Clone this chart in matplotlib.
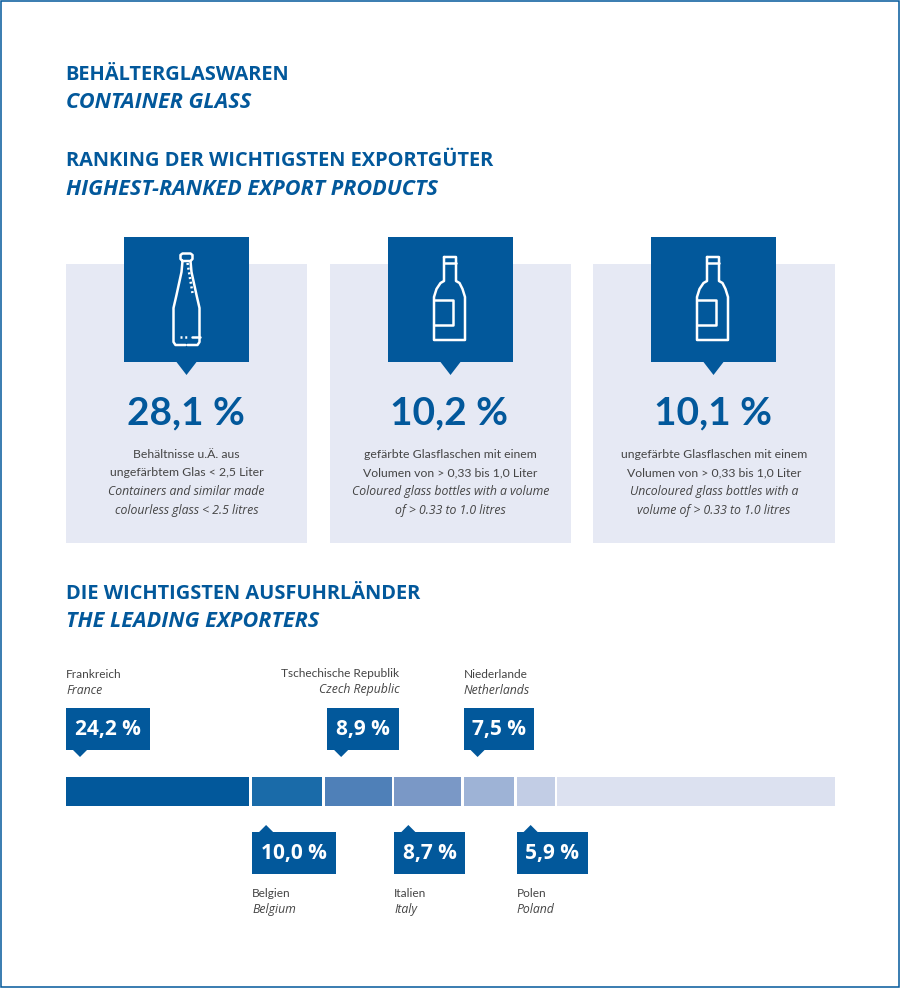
import matplotlib
matplotlib.use("Agg")
import matplotlib.pyplot as plt
from matplotlib.patches import Rectangle, Polygon, PathPatch
from matplotlib.path import Path

plt.rcParams['font.family'] = ['Open Sans', 'DejaVu Sans']

BLUE = '#02589b'
PANEL = '#e6e9f4'
GREY = '#454545'
LATO = ['Lato', 'DejaVu Sans']

# headings
title_de = "BEHÄLTERGLASWAREN"
title_en = "CONTAINER GLASS"
ranking_de = "RANKING DER WICHTIGSTEN EXPORTGÜTER"
ranking_en = "HIGHEST-RANKED EXPORT PRODUCTS"
exporters_de = "DIE WICHTIGSTEN AUSFUHRLÄNDER"
exporters_en = "THE LEADING EXPORTERS"

# ranking cards
card_values = ["28,1 %", "10,2 %", "10,1 %"]
card_lines = [
    ["Behältnisse u.Ä. aus", "ungefärbtem Glas < 2,5 Liter",
     "Containers and similar made", "colourless glass < 2.5 litres"],
    ["gefärbte Glasflaschen mit einem", "Volumen von > 0,33 bis 1,0 Liter",
     "Coloured glass bottles with a volume", "of > 0.33 to 1.0 litres"],
    ["ungefärbte Glasflaschen mit einem", "Volumen von > 0,33 bis 1,0 Liter",
     "Uncoloured glass bottles with a", "volume of > 0.33 to 1.0 litres"],
]

# exporters, the shares are what the bar shows, the labels what is printed
countries_de = ["Frankreich", "Belgien", "Tschechische Republik", "Italien", "Niederlande", "Polen"]
countries_en = ["France", "Belgium", "Czech Republic", "Italy", "Netherlands", "Poland"]
share_labels = ["24,2 %", "10,0 %", "8,9 %", "8,7 %", "7,5 %", "5,9 %"]
bar_shares = [24.2, 9.5, 9.0, 9.0, 6.9, 5.3, 36.1]
bar_colors = ['#02589b', '#1a6ba9', '#4f80b8', '#7a98c6', '#9eb3d6', '#c2cde5', '#dce1f0']

W, H = 900, 988
fig = plt.figure(figsize=(W / 100, H / 100), dpi=100, facecolor='white')
ax = fig.add_axes([0, 0, 1, 1])
ax.set_xlim(0, W)
ax.set_ylim(H, 0)
ax.axis('off')

ax.add_patch(Rectangle((0.75, 0.75), W - 1.5, H - 1.5, fill=False, ec=BLUE, lw=1.1))


def heading(y, de, en):
    ax.text(65.5, y, de, color=BLUE, fontsize=14.4, fontweight='bold', va='center', ha='left')
    ax.text(66, y + 28, en, color=BLUE, fontsize=15.6, fontweight='bold', style='italic', va='center', ha='left')


heading(74.5, title_de, title_en)
heading(161.5, ranking_de, ranking_en)
heading(593.5, exporters_de, exporters_en)


def outline(points, lw=1.8):
    # white icon stroke, points in pixels
    codes = [Path.MOVETO] + [Path.LINETO] * (len(points) - 1)
    ax.add_patch(PathPatch(Path(points, codes), fill=False, ec='white', lw=lw,
                           joinstyle='round', capstyle='round'))


def slim_bottle(cx):
    outline([(cx - 4, 261), (cx - 6, 259), (cx - 6, 255), (cx - 4, 253.5), (cx + 4, 253.5),
             (cx + 6, 255), (cx + 6, 259), (cx + 4, 261), (cx - 4, 261)])
    outline([(cx - 4, 261), (cx - 5, 272), (cx - 10, 295), (cx - 13, 308), (cx - 13, 342),
             (cx - 11, 345), (cx - 1, 345)])
    outline([(cx + 4, 261), (cx + 5, 272), (cx + 10, 295), (cx + 13, 308), (cx + 13, 342),
             (cx + 11, 345), (cx + 1, 345)])
    outline([(cx + 5, 337), (cx + 13, 337)])
    ax.plot([cx + 1, cx + 6], [263, 293], color='white', lw=1.8, ls=(0, (0.8, 1.1)))
    ax.plot([cx - 7, cx + 2], [337, 337], color='white', lw=1.8, ls=(0, (0.8, 1.1)))


def wine_bottle(cx):
    c = cx - 1
    outline([(c - 5.5, 263), (c + 6.5, 263)])
    outline([(c - 5.5, 257), (c + 6.5, 257), (c + 6.5, 281), (c + 10, 283), (c + 13, 289), (c + 15.5, 297),
             (c + 15.5, 340), (c - 15.5, 340), (c - 15.5, 297), (c - 13, 289), (c - 9, 283),
             (c - 5.5, 281), (c - 5.5, 257)])
    outline([(c - 15.5, 300), (c + 3, 300), (c + 3, 325), (c - 15.5, 325)])


card_left = [66, 330, 593]
card_right = [307, 571, 835]
box_left = [124, 388, 651]
for i in range(3):
    x0, x1 = card_left[i], card_right[i]
    cx = box_left[i] + 62.5
    ax.add_patch(Rectangle((x0, 264), x1 - x0, 279, fc=PANEL, ec='none'))
    ax.add_patch(Rectangle((box_left[i], 237), 125, 125, fc=BLUE, ec='none'))
    ax.add_patch(Polygon([(cx - 10, 362), (cx + 10, 362), (cx, 375)], fc=BLUE, ec='none'))
    if i == 0:
        slim_bottle(cx)
    else:
        wine_bottle(cx)
    ax.text(cx - 1, 412.5, card_values[i], color=BLUE, family=LATO, fontsize=28,
            fontweight='bold', ha='center', va='center')
    for j, line in enumerate(card_lines[i]):
        if j >= 2:
            ax.text((x0 + x1) / 2, 454.5 + j * 18.7, line, color=GREY, fontsize=8.8,
                    ha='center', va='center', style='italic')
        else:
            ax.text((x0 + x1) / 2, 454 + j * 18.7, line, color=GREY, fontsize=8.8,
                    family=LATO, ha='center', va='center')

# stacked bar on its own 0-100 axis
bar_ax = fig.add_axes([66 / W, 1 - 806 / H, 769 / W, 29 / H])
bar_ax.set_xlim(0, 100)
bar_ax.set_ylim(0, 1)
bar_ax.axis('off')
gap = 0.36
left = 0
lefts = []
for k, (share, col) in enumerate(zip(bar_shares, bar_colors)):
    width = share if k == len(bar_shares) - 1 else share - gap
    bar_ax.barh(0.5, width, left=left, height=1, color=col, edgecolor='none')
    lefts.append(left)
    left += share


def to_px(value):
    return ax.transData.inverted().transform(bar_ax.transData.transform((value, 0)))[0]


box_widths = [84, 84, 72, 71, 70, 71]
for k in range(6):
    x = to_px(lefts[k])
    w = box_widths[k]
    if k % 2 == 0:
        # callouts above the bar
        if k == 2:
            x = x + 2
        y0, y1 = 708, 750
        tip = x + 14
        ax.add_patch(Polygon([(tip - 7, y1), (tip + 7, y1), (tip, y1 + 7)], fc=BLUE, ec='none'))
        if k == 2:
            ax.text(x + w, 673, countries_de[k], color=GREY, fontsize=8.6, family=LATO, ha='right', va='center')
            ax.text(x + w, 689, countries_en[k], color=GREY, fontsize=8.8, style='italic', ha='right', va='center')
        else:
            ax.text(x, 674, countries_de[k], color=GREY, fontsize=8.6, family=LATO, ha='left', va='center')
            ax.text(x, 690, countries_en[k], color=GREY, fontsize=8.8, style='italic', ha='left', va='center')
    else:
        y0, y1 = 832, 874
        tip = x + 14
        ax.add_patch(Polygon([(tip - 7, y0), (tip + 7, y0), (tip, y0 - 7)], fc=BLUE, ec='none'))
        ax.text(x, 893.5, countries_de[k], color=GREY, fontsize=8.6, family=LATO, ha='left', va='center')
        ax.text(x, 909, countries_en[k], color=GREY, fontsize=8.8, style='italic', ha='left', va='center')
    ax.add_patch(Rectangle((x, y0), w, y1 - y0, fc=BLUE, ec='none'))
    ax.text(x + w / 2, (y0 + y1) / 2, share_labels[k], color='white', fontsize=15,
            fontweight='bold', ha='center', va='center')

fig.savefig('out.png', dpi=100, facecolor='white')
